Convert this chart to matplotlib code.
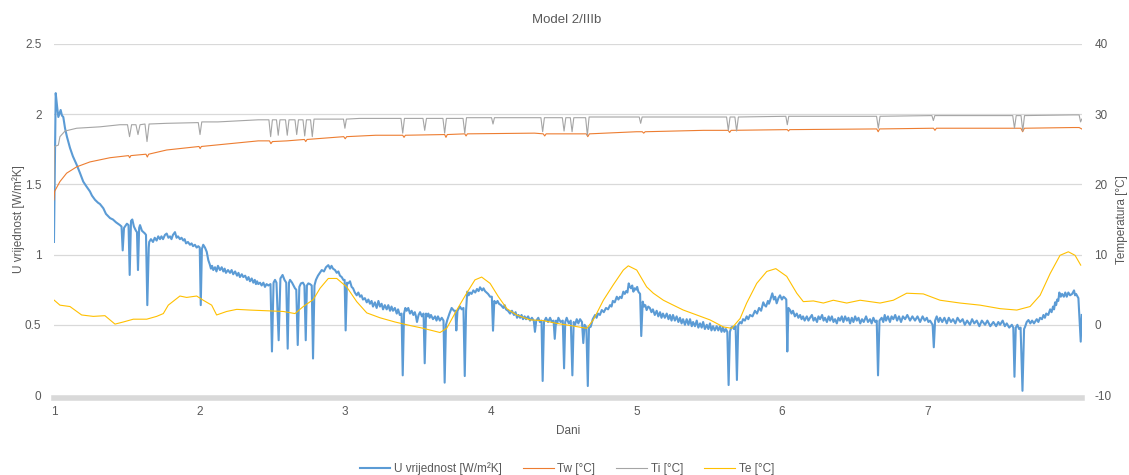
import matplotlib
matplotlib.use("Agg")
import matplotlib.pyplot as plt

plt.rcParams['font.family'] = ['Liberation Sans', 'DejaVu Sans']
plt.rcParams['axes.unicode_minus'] = False

# (dan, U vrijednost [W/m2K])
u_data = [
    (1.000, 1.09), (1.012, 2.15), (1.022, 2.05), (1.030, 1.98), (1.046, 2.03), (1.055, 1.99),
    (1.064, 1.98), (1.076, 1.90), (1.089, 1.84), (1.110, 1.76), (1.130, 1.70), (1.156, 1.64),
    (1.179, 1.58), (1.201, 1.52), (1.220, 1.49), (1.247, 1.45), (1.261, 1.42), (1.282, 1.39),
    (1.302, 1.37), (1.316, 1.36), (1.339, 1.33), (1.357, 1.29), (1.385, 1.26), (1.405, 1.25),
    (1.426, 1.23), (1.453, 1.21), (1.464, 1.20), (1.472, 1.03), (1.481, 1.19), (1.501, 1.22),
    (1.512, 1.21), (1.520, 0.855), (1.529, 1.24), (1.538, 1.25), (1.549, 1.20), (1.563, 1.17),
    (1.570, 1.16), (1.577, 0.89), (1.585, 1.19), (1.591, 1.21), (1.604, 1.17), (1.625, 1.15),
    (1.632, 1.14), (1.641, 0.64), (1.651, 1.05), (1.654, 1.09), (1.666, 1.11), (1.680, 1.09),
    (1.692, 1.12), (1.705, 1.10), (1.716, 1.13), (1.728, 1.11), (1.738, 1.13), (1.749, 1.11),
    (1.762, 1.14), (1.774, 1.15), (1.786, 1.12), (1.797, 1.13), (1.807, 1.11), (1.817, 1.14),
    (1.831, 1.16), (1.842, 1.12), (1.852, 1.13), (1.865, 1.11), (1.876, 1.12), (1.888, 1.10),
    (1.897, 1.11), (1.907, 1.08), (1.920, 1.09), (1.934, 1.07), (1.945, 1.08), (1.955, 1.06),
    (1.968, 1.07), (1.980, 1.05), (1.991, 1.06), (2.001, 1.05), (2.008, 0.64), (2.016, 1.04),
    (2.025, 1.07), (2.037, 1.05), (2.049, 1.02), (2.060, 0.96), (2.070, 0.93), (2.078, 0.90),
    (2.086, 0.92), (2.094, 0.89), (2.106, 0.91), (2.116, 0.88), (2.126, 0.92), (2.140, 0.89),
    (2.152, 0.91), (2.163, 0.88), (2.172, 0.90), (2.181, 0.87), (2.195, 0.89), (2.209, 0.87),
    (2.220, 0.89), (2.231, 0.86), (2.244, 0.88), (2.257, 0.85), (2.267, 0.87), (2.277, 0.84),
    (2.290, 0.86), (2.300, 0.84), (2.313, 0.85), (2.326, 0.82), (2.336, 0.84), (2.346, 0.81),
    (2.358, 0.83), (2.369, 0.80), (2.379, 0.82), (2.387, 0.79), (2.395, 0.81), (2.403, 0.79),
    (2.415, 0.80), (2.426, 0.78), (2.438, 0.80), (2.449, 0.77), (2.460, 0.79), (2.472, 0.78),
    (2.487, 0.79), (2.497, 0.31), (2.508, 0.80), (2.518, 0.82), (2.528, 0.80), (2.543, 0.39),
    (2.555, 0.83), (2.570, 0.855), (2.583, 0.82), (2.595, 0.80), (2.605, 0.33), (2.614, 0.80),
    (2.621, 0.82), (2.635, 0.80), (2.655, 0.76), (2.664, 0.75), (2.674, 0.356), (2.685, 0.77),
    (2.696, 0.795), (2.710, 0.80), (2.720, 0.78), (2.729, 0.39), (2.737, 0.78), (2.747, 0.795),
    (2.758, 0.79), (2.770, 0.78), (2.779, 0.26), (2.789, 0.78), (2.799, 0.82), (2.813, 0.85),
    (2.826, 0.87), (2.839, 0.89), (2.854, 0.88), (2.868, 0.91), (2.884, 0.925), (2.896, 0.90),
    (2.906, 0.92), (2.916, 0.90), (2.930, 0.89), (2.942, 0.87), (2.953, 0.88), (2.964, 0.85),
    (2.976, 0.84), (2.987, 0.82), (2.996, 0.82), (3.003, 0.46), (3.012, 0.80), (3.021, 0.795),
    (3.033, 0.81), (3.044, 0.77), (3.054, 0.76), (3.066, 0.73), (3.079, 0.71), (3.090, 0.73),
    (3.102, 0.70), (3.112, 0.71), (3.122, 0.68), (3.135, 0.69), (3.148, 0.66), (3.159, 0.68),
    (3.170, 0.65), (3.181, 0.67), (3.191, 0.63), (3.204, 0.66), (3.216, 0.62), (3.228, 0.67),
    (3.239, 0.63), (3.250, 0.65), (3.260, 0.61), (3.272, 0.64), (3.285, 0.61), (3.296, 0.64),
    (3.308, 0.60), (3.318, 0.63), (3.328, 0.60), (3.341, 0.62), (3.354, 0.58), (3.363, 0.61),
    (3.375, 0.57), (3.387, 0.58), (3.395, 0.14), (3.404, 0.58), (3.413, 0.62), (3.422, 0.60),
    (3.433, 0.62), (3.445, 0.58), (3.456, 0.60), (3.468, 0.57), (3.478, 0.59), (3.486, 0.56),
    (3.493, 0.52), (3.504, 0.57), (3.514, 0.59), (3.527, 0.56), (3.538, 0.58), (3.546, 0.226),
    (3.555, 0.58), (3.563, 0.56), (3.571, 0.58), (3.580, 0.55), (3.589, 0.57), (3.603, 0.54),
    (3.617, 0.56), (3.627, 0.53), (3.637, 0.56), (3.650, 0.53), (3.663, 0.55), (3.675, 0.53),
    (3.683, 0.088), (3.692, 0.50), (3.701, 0.534), (3.716, 0.58), (3.731, 0.62), (3.747, 0.60),
    (3.757, 0.60), (3.763, 0.46), (3.771, 0.60), (3.788, 0.63), (3.800, 0.61), (3.812, 0.62),
    (3.821, 0.135), (3.830, 0.60), (3.838, 0.736), (3.848, 0.71), (3.857, 0.73), (3.868, 0.72),
    (3.880, 0.745), (3.893, 0.73), (3.905, 0.755), (3.916, 0.74), (3.926, 0.767), (3.940, 0.745),
    (3.950, 0.76), (3.960, 0.74), (3.970, 0.73), (3.981, 0.72), (3.995, 0.70), (4.007, 0.70),
    (4.015, 0.458), (4.024, 0.67), (4.036, 0.653), (4.046, 0.67), (4.056, 0.65), (4.070, 0.64),
    (4.086, 0.62), (4.095, 0.64), (4.104, 0.61), (4.118, 0.60), (4.132, 0.58), (4.145, 0.60),
    (4.159, 0.57), (4.170, 0.59), (4.180, 0.55), (4.190, 0.57), (4.201, 0.55), (4.211, 0.57),
    (4.221, 0.54), (4.232, 0.56), (4.242, 0.54), (4.256, 0.56), (4.269, 0.53), (4.282, 0.55),
    (4.295, 0.53), (4.303, 0.45), (4.312, 0.53), (4.326, 0.55), (4.337, 0.52), (4.348, 0.53),
    (4.356, 0.10), (4.365, 0.52), (4.379, 0.55), (4.393, 0.52), (4.407, 0.55), (4.419, 0.52),
    (4.431, 0.53), (4.439, 0.40), (4.448, 0.53), (4.456, 0.51), (4.464, 0.55), (4.479, 0.52),
    (4.494, 0.53), (4.503, 0.19), (4.511, 0.52), (4.521, 0.55), (4.535, 0.51), (4.549, 0.53),
    (4.560, 0.14), (4.569, 0.52), (4.578, 0.50), (4.590, 0.54), (4.601, 0.51), (4.613, 0.54),
    (4.626, 0.52), (4.635, 0.37), (4.644, 0.50), (4.656, 0.48), (4.666, 0.064), (4.674, 0.48),
    (4.686, 0.486), (4.700, 0.54), (4.716, 0.57), (4.726, 0.55), (4.736, 0.58), (4.749, 0.57),
    (4.762, 0.605), (4.776, 0.59), (4.791, 0.62), (4.805, 0.61), (4.819, 0.64), (4.829, 0.63),
    (4.838, 0.67), (4.851, 0.66), (4.865, 0.70), (4.876, 0.68), (4.887, 0.70), (4.898, 0.69),
    (4.910, 0.736), (4.920, 0.72), (4.929, 0.74), (4.938, 0.73), (4.947, 0.795), (4.955, 0.77),
    (4.963, 0.76), (4.971, 0.78), (4.979, 0.736), (4.988, 0.76), (4.997, 0.75), (5.005, 0.77),
    (5.013, 0.736), (5.025, 0.72), (5.033, 0.42), (5.043, 0.665), (5.052, 0.63), (5.061, 0.64),
    (5.070, 0.605), (5.081, 0.63), (5.092, 0.62), (5.103, 0.59), (5.113, 0.61), (5.126, 0.57),
    (5.139, 0.60), (5.150, 0.56), (5.162, 0.59), (5.172, 0.55), (5.182, 0.58), (5.195, 0.55),
    (5.208, 0.58), (5.220, 0.54), (5.230, 0.57), (5.241, 0.53), (5.251, 0.57), (5.264, 0.53),
    (5.276, 0.56), (5.288, 0.52), (5.299, 0.55), (5.310, 0.51), (5.320, 0.54), (5.333, 0.50),
    (5.345, 0.54), (5.357, 0.50), (5.368, 0.54), (5.380, 0.49), (5.389, 0.52), (5.402, 0.49),
    (5.414, 0.53), (5.425, 0.48), (5.437, 0.51), (5.448, 0.48), (5.458, 0.52), (5.470, 0.47),
    (5.483, 0.50), (5.494, 0.47), (5.505, 0.51), (5.515, 0.46), (5.526, 0.49), (5.538, 0.46),
    (5.551, 0.49), (5.562, 0.46), (5.574, 0.49), (5.584, 0.45), (5.594, 0.48), (5.604, 0.45),
    (5.614, 0.47), (5.624, 0.45), (5.633, 0.071), (5.642, 0.45), (5.651, 0.48), (5.660, 0.486),
    (5.670, 0.47), (5.681, 0.49), (5.690, 0.107), (5.699, 0.50), (5.712, 0.52), (5.722, 0.51),
    (5.732, 0.54), (5.745, 0.53), (5.757, 0.56), (5.768, 0.54), (5.780, 0.57), (5.797, 0.56),
    (5.814, 0.60), (5.828, 0.58), (5.842, 0.62), (5.856, 0.60), (5.871, 0.66), (5.880, 0.64),
    (5.890, 0.63), (5.903, 0.67), (5.910, 0.65), (5.917, 0.67), (5.933, 0.724), (5.944, 0.68),
    (5.953, 0.70), (5.963, 0.653), (5.975, 0.69), (5.986, 0.71), (5.999, 0.68), (6.010, 0.70),
    (6.021, 0.69), (6.029, 0.68), (6.036, 0.31), (6.044, 0.62), (6.055, 0.605), (6.065, 0.58),
    (6.075, 0.60), (6.088, 0.56), (6.101, 0.58), (6.112, 0.55), (6.124, 0.57), (6.134, 0.54),
    (6.144, 0.56), (6.155, 0.53), (6.170, 0.56), (6.181, 0.53), (6.192, 0.55), (6.205, 0.57),
    (6.216, 0.53), (6.227, 0.55), (6.240, 0.52), (6.250, 0.56), (6.261, 0.54), (6.275, 0.57),
    (6.285, 0.53), (6.295, 0.55), (6.308, 0.52), (6.320, 0.56), (6.330, 0.53), (6.342, 0.56),
    (6.353, 0.52), (6.364, 0.54), (6.376, 0.51), (6.387, 0.55), (6.398, 0.53), (6.410, 0.56),
    (6.421, 0.52), (6.433, 0.56), (6.445, 0.53), (6.456, 0.55), (6.467, 0.51), (6.479, 0.55),
    (6.490, 0.52), (6.502, 0.56), (6.513, 0.53), (6.525, 0.55), (6.537, 0.51), (6.549, 0.54),
    (6.561, 0.52), (6.577, 0.56), (6.590, 0.52), (6.604, 0.54), (6.615, 0.51), (6.627, 0.55),
    (6.640, 0.52), (6.650, 0.53), (6.659, 0.14), (6.669, 0.53), (6.684, 0.55), (6.695, 0.52),
    (6.705, 0.57), (6.714, 0.53), (6.727, 0.56), (6.741, 0.52), (6.752, 0.56), (6.764, 0.54),
    (6.777, 0.57), (6.790, 0.53), (6.803, 0.56), (6.817, 0.52), (6.830, 0.56), (6.845, 0.54),
    (6.860, 0.57), (6.879, 0.53), (6.895, 0.56), (6.913, 0.53), (6.930, 0.56), (6.948, 0.52),
    (6.965, 0.56), (6.980, 0.53), (6.994, 0.55), (7.005, 0.52), (7.016, 0.53), (7.034, 0.50),
    (7.042, 0.34), (7.051, 0.53), (7.062, 0.56), (7.075, 0.52), (7.085, 0.55), (7.100, 0.52),
    (7.115, 0.55), (7.131, 0.51), (7.145, 0.55), (7.160, 0.52), (7.174, 0.54), (7.190, 0.51),
    (7.205, 0.55), (7.223, 0.52), (7.240, 0.54), (7.255, 0.50), (7.271, 0.53), (7.290, 0.50),
    (7.305, 0.54), (7.320, 0.51), (7.337, 0.53), (7.355, 0.49), (7.372, 0.53), (7.394, 0.50),
    (7.410, 0.53), (7.430, 0.49), (7.451, 0.52), (7.470, 0.49), (7.485, 0.52), (7.497, 0.50),
    (7.515, 0.53), (7.530, 0.49), (7.543, 0.51), (7.560, 0.48), (7.578, 0.50), (7.588, 0.48),
    (7.596, 0.13), (7.605, 0.48), (7.616, 0.50), (7.628, 0.47), (7.638, 0.48), (7.651, 0.03),
    (7.662, 0.47), (7.669, 0.486), (7.680, 0.52), (7.692, 0.534), (7.705, 0.51), (7.717, 0.53),
    (7.730, 0.51), (7.749, 0.54), (7.760, 0.52), (7.772, 0.55), (7.785, 0.54), (7.795, 0.57),
    (7.805, 0.55), (7.814, 0.58), (7.828, 0.57), (7.841, 0.61), (7.851, 0.59), (7.861, 0.63),
    (7.868, 0.61), (7.875, 0.66), (7.882, 0.64), (7.889, 0.68), (7.897, 0.67), (7.904, 0.73),
    (7.914, 0.70), (7.923, 0.72), (7.935, 0.70), (7.945, 0.73), (7.955, 0.70), (7.966, 0.73),
    (7.978, 0.71), (7.992, 0.72), (8.005, 0.745), (8.012, 0.71), (8.019, 0.72), (8.035, 0.69),
    (8.051, 0.38), (8.058, 0.57),
]

# (dan, Tw [C])
tw_data = [
    (1.000, 17.8), (1.004, 19.0), (1.041, 20.4), (1.087, 21.6), (1.156, 22.5), (1.247, 23.2),
    (1.385, 23.8), (1.512, 24.1), (1.520, 23.8), (1.528, 24.1), (1.632, 24.3), (1.641, 23.9),
    (1.650, 24.3), (1.774, 24.9), (1.996, 25.4), (2.004, 25.1), (2.012, 25.4), (2.403, 26.2),
    (2.480, 26.2), (2.490, 25.8), (2.500, 26.1), (2.600, 26.2), (2.720, 26.4), (2.729, 26.1),
    (2.738, 26.4), (2.990, 26.8), (3.000, 26.5), (3.010, 26.8), (3.210, 27.0), (3.395, 27.0),
    (3.404, 26.7), (3.413, 27.0), (3.683, 27.1), (3.692, 26.7), (3.701, 27.1), (3.821, 27.2),
    (3.830, 26.9), (3.839, 27.2), (4.300, 27.3), (4.360, 27.2), (4.370, 26.9), (4.380, 27.2),
    (4.655, 27.2), (4.666, 26.8), (4.677, 27.2), (5.000, 27.5), (5.040, 27.5), (5.050, 27.3),
    (5.060, 27.5), (5.460, 27.7), (5.630, 27.7), (5.640, 27.4), (5.650, 27.7), (6.036, 27.8),
    (6.044, 27.6), (6.052, 27.8), (6.650, 27.9), (6.660, 27.5), (6.670, 27.9), (7.040, 28.0),
    (7.050, 27.7), (7.060, 28.0), (7.640, 28.0), (7.652, 27.5), (7.664, 28.0), (8.000, 28.1),
    (8.040, 28.1), (8.058, 27.9),
]

# (dan, Ti [C])
ti_data = [
    (1.000, 19.9), (1.004, 25.4), (1.030, 25.6), (1.041, 26.8), (1.076, 27.6), (1.156, 28.0),
    (1.316, 28.2), (1.453, 28.5), (1.505, 28.5), (1.519, 26.8), (1.533, 28.5), (1.563, 28.5),
    (1.577, 27.1), (1.591, 28.5), (1.625, 28.6), (1.639, 26.1), (1.653, 28.6), (1.774, 28.7),
    (1.991, 28.8), (2.003, 27.1), (2.015, 28.9), (2.126, 28.9), (2.403, 29.2), (2.476, 29.2),
    (2.488, 26.8), (2.500, 29.2), (2.528, 29.2), (2.540, 27.0), (2.552, 29.2), (2.590, 29.2),
    (2.602, 27.0), (2.614, 29.2), (2.655, 29.2), (2.667, 27.1), (2.679, 29.2), (2.710, 29.2),
    (2.722, 26.9), (2.734, 29.2), (2.762, 29.2), (2.774, 26.8), (2.786, 29.3), (2.850, 29.3),
    (2.988, 29.3), (2.998, 28.0), (3.008, 29.3), (3.100, 29.4), (3.383, 29.4), (3.395, 27.3),
    (3.407, 29.4), (3.534, 29.4), (3.546, 27.7), (3.558, 29.4), (3.671, 29.4), (3.683, 27.3),
    (3.695, 29.4), (3.809, 29.4), (3.821, 27.3), (3.833, 29.5), (4.005, 29.5), (4.015, 28.6),
    (4.025, 29.5), (4.344, 29.5), (4.356, 27.5), (4.368, 29.5), (4.491, 29.5), (4.503, 27.6),
    (4.515, 29.5), (4.546, 29.5), (4.558, 27.5), (4.570, 29.5), (4.651, 29.5), (4.663, 27.0),
    (4.675, 29.6), (5.019, 29.6), (5.029, 28.7), (5.039, 29.6), (5.619, 29.6), (5.631, 27.7),
    (5.643, 29.6), (5.676, 29.6), (5.688, 27.6), (5.700, 29.6), (6.026, 29.7), (6.036, 28.5),
    (6.046, 29.7), (6.649, 29.7), (6.661, 28.0), (6.673, 29.7), (7.029, 29.8), (7.039, 29.1),
    (7.049, 29.8), (7.584, 29.8), (7.596, 28.0), (7.608, 29.8), (7.641, 29.8), (7.653, 27.6),
    (7.665, 29.8), (8.000, 29.9), (8.040, 29.9), (8.050, 28.9), (8.058, 29.3),
]

# (dan, Te [C])
te_data = [
    (1.002, 3.5), (1.041, 2.8), (1.110, 2.6), (1.190, 1.4), (1.270, 1.2), (1.350, 1.3),
    (1.419, 0.1), (1.476, 0.4), (1.545, 0.8), (1.637, 0.8), (1.705, 1.2), (1.751, 1.6),
    (1.785, 2.8), (1.865, 4.1), (1.911, 3.9), (1.980, 4.1), (2.025, 3.5), (2.083, 2.8),
    (2.117, 1.4), (2.186, 1.9), (2.255, 2.2), (2.346, 2.1), (2.461, 2.0), (2.575, 1.9),
    (2.655, 1.6), (2.712, 2.6), (2.781, 3.6), (2.827, 5.2), (2.884, 6.6), (2.942, 6.6),
    (3.010, 5.4), (3.079, 3.3), (3.148, 1.7), (3.239, 1.0), (3.342, 0.4), (3.445, -0.1),
    (3.536, -0.5), (3.651, -1.1), (3.697, -0.5), (3.766, 2.1), (3.834, 4.5), (3.891, 6.4),
    (3.937, 6.8), (3.995, 5.9), (4.052, 4.0), (4.110, 2.3), (4.178, 1.4), (4.269, 0.7),
    (4.361, 0.6), (4.453, 0.2), (4.544, -0.1), (4.659, -0.5), (4.704, 0.7), (4.773, 3.5),
    (4.841, 5.7), (4.910, 7.8), (4.944, 8.4), (5.002, 7.8), (5.070, 5.4), (5.116, 4.5),
    (5.185, 3.5), (5.253, 2.8), (5.322, 2.1), (5.414, 1.4), (5.505, 0.7), (5.597, -0.3),
    (5.654, -0.5), (5.712, 0.9), (5.757, 3.1), (5.826, 5.9), (5.895, 7.6), (5.957, 8.0),
    (6.032, 6.9), (6.101, 4.5), (6.146, 3.3), (6.215, 3.4), (6.284, 3.1), (6.352, 3.5),
    (6.444, 3.1), (6.536, 3.5), (6.673, 3.1), (6.764, 3.5), (6.856, 4.5), (6.970, 4.4),
    (7.085, 3.5), (7.223, 3.1), (7.360, 2.8), (7.497, 2.3), (7.612, 2.1), (7.703, 2.6),
    (7.772, 4.2), (7.841, 7.3), (7.909, 9.9), (7.966, 10.4), (8.012, 9.9), (8.051, 8.5),
]

x_ticks = [1, 2, 3, 4, 5, 6, 7]
u_ticks = [0, 0.5, 1, 1.5, 2, 2.5]
t_ticks = [-10, 0, 10, 20, 30, 40]
u_labels = ["0", "0.5", "1", "1.5", "2", "2.5"]

TXT = "#595959"
GRID = "#d9d9d9"
FS = 8.5

fig = plt.figure(figsize=(11.29, 4.75), dpi=100)
ax = fig.add_axes([0.0478, 0.1684, 0.9106, 0.739])
ax2 = ax.twinx()

for a in (ax, ax2):
    for s in a.spines.values():
        s.set_visible(False)
    a.tick_params(length=0, labelsize=FS, labelcolor=TXT)

ax.spines["bottom"].set_visible(True)
ax.spines["bottom"].set_color(GRID)
ax.spines["bottom"].set_linewidth(4)
ax.spines["bottom"].set_position(("outward", 2))

for v in u_ticks[1:]:
    ax.axhline(v, color=GRID, lw=0.9, zorder=0)

ud, uv = zip(*u_data)
u_line, = ax.plot(ud, uv, color="#5b9bd5", lw=1.5, label="U vrijednost [W/m²K]")
ax.set_ylim(0, 2.5)
ax.set_yticks(u_ticks)
ax.set_yticklabels(u_labels)
ax.tick_params(axis="y", pad=9)
ax.tick_params(axis="x", pad=6)
ax.set_xlim(1, 8.06)
ax.set_xticks(x_ticks)
ax.set_ylabel("U vrijednost [W/m²K]", fontsize=FS, color=TXT, labelpad=0)
ax.set_xlabel("Dani", fontsize=FS, color=TXT, labelpad=5)

lines = [u_line]
for data, col, name in [(tw_data, "#ed7d31", "Tw [°C]"),
                        (ti_data, "#a5a5a5", "Ti [°C]"),
                        (te_data, "#ffc000", "Te [°C]")]:
    d, v = zip(*data)
    ln, = ax2.plot(d, v, color=col, lw=0.8, label=name)
    lines.append(ln)
ax2.set_ylim(-10, 40)
ax2.set_yticks(t_ticks)
ax2.tick_params(axis="y", pad=9)
ax2.set_ylabel("Temperatura [°C]", fontsize=FS, color=TXT, labelpad=3)

fig.text(0.502, 0.957, "Model 2/IIIb", ha="center", va="center", fontsize=9.5, color=TXT)

fig.legend(lines, [h.get_label() for h in lines], loc="lower center",
           bbox_to_anchor=(0.502, -0.022), ncol=4, frameon=False, fontsize=FS,
           handlelength=2.6, handletextpad=0.3, columnspacing=1.8, labelcolor=TXT)

fig.savefig("out.png", dpi=100)
